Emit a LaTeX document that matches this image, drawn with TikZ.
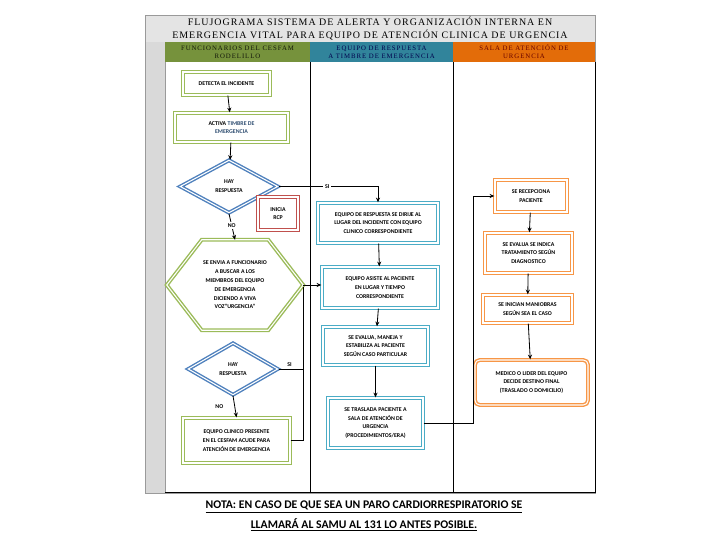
\documentclass[tikz,border=0pt]{standalone}
\usepackage{fontspec}
\setmainfont{Carlito}
\newfontfamily\titlefont[LetterSpace=10]{Liberation Serif}
\newfontfamily\headfont[LetterSpace=14]{Liberation Serif}
\usetikzlibrary{arrows.meta}
\usetikzlibrary{shapes.geometric}
\definecolor{boxgreen}{HTML}{9BBB59}
\definecolor{boxblue}{HTML}{4BACC6}
\definecolor{diablue}{HTML}{4F81BD}
\definecolor{boxorange}{HTML}{F79646}
\definecolor{boxred}{HTML}{C0504D}
\definecolor{hdgreen}{HTML}{76923C}
\definecolor{hdblue}{HTML}{31849B}
\definecolor{hdorange}{HTML}{E36C09}
\definecolor{stripgray}{HTML}{D9D9D9}
\definecolor{titlegray}{HTML}{E4E4E4}
\definecolor{framegray}{HTML}{9A9A9A}
\newlength\pxu
\setlength\pxu{0.03cm}

\begin{document}
\begin{tikzpicture}[
    x=0.03cm, y=-0.03cm,
    boxtext/.style={align=center, inner sep=1pt,
        font=\fontsize{5}{7.5}\selectfont\bfseries},
    flowbox/.style={
        rectangle, draw=#1, fill=white,
        line width=1.2pt, double=white, double distance=0.9pt,
        boxtext
    },
    decision/.style={flowbox=diablue, diamond, aspect=1.85},
    hexline/.style={draw=boxgreen, line width=1.2pt, double=white,
        double distance=0.9pt},
    header/.style={fill=#1, align=center, inner sep=0pt,
        minimum height=20\pxu, font=\headfont\fontsize{5.8}{7}\selectfont},
    link/.style={draw, line width=0.7pt},
    arr/.style={link, -{Stealth[length=4pt, width=3.5pt]}},
    tag/.style={font=\fontsize{5}{6}\selectfont\bfseries, fill=white, inner sep=1.5pt},
    note/.style={font=\fontsize{10}{12}\selectfont\bfseries}
  ]

  \useasboundingbox (0,0) rectangle (720,540);

  % table
  \fill[stripgray] (145,42) rectangle (165,493);
  \node[fill=titlegray, minimum width=450\pxu, minimum height=27\pxu, inner sep=0pt,
        align=center, font=\titlefont\fontsize{8.5}{11}\selectfont] (title) at (370,28.5)
        {FLUJOGRAMA SISTEMA DE ALERTA Y ORGANIZACIÓN INTERNA EN\\
         EMERGENCIA VITAL PARA EQUIPO DE ATENCIÓN CLINICA DE URGENCIA};
  \node[header=hdgreen, minimum width=145\pxu, text=black!85!hdgreen] (col_func) at (237.5,52)
        {FUNCIONARIOS DEL CESFAM\\RODELILLO};
  \node[header=hdblue, minimum width=143\pxu, text=black!70!blue] (col_equipo) at (381.5,52)
        {EQUIPO DE RESPUESTA\\A TIMBRE DE EMERGENCIA};
  \node[header=hdorange, minimum width=142\pxu, text=black!60!red] (col_sala) at (524,52)
        {SALA DE ATENCIÓN DE\\URGENCIA};
  \draw[framegray, line width=0.6pt] (145,15) rectangle (595,493);
  \draw[framegray, line width=0.4pt] (165,62) -- (165,493);
  \draw[line width=0.6pt] (310,62) -- (310,493);
  \draw[line width=0.6pt] (453,62) -- (453,493);
  \draw[line width=0.6pt] (595,62) -- (595,493);
  \draw[line width=0.8pt] (165,492) -- (595,492);

  % funcionarios
  \node[flowbox=boxgreen, minimum width=87\pxu, minimum height=23\pxu] (detecta) at (226.5,83.5)
        {DETECTA EL INCIDENTE};
  \node[flowbox=boxgreen, minimum width=113\pxu, minimum height=29\pxu] (activa) at (231.5,127.5)
        {ACTIVA \textcolor{diablue!60!black}{TIMBRE DE}\\\textcolor{diablue!60!black}{EMERGENCIA}};
  \node[decision, minimum width=98\pxu, minimum height=53\pxu] (hay_1) at (229,186.5)
        {HAY\\RESPUESTA};
  \node[flowbox=boxred, minimum width=40\pxu, minimum height=33\pxu] (rcp) at (278,213.5)
        {INICIA\\RCP};
  \node[boxtext, minimum width=136\pxu, minimum height=90\pxu] (hexa) at (235,285)
        {SE ENVIA A FUNCIONARIO\\A BUSCAR A LOS\\MIEMBROS DEL EQUIPO\\DE EMERGENCIA\\DICIENDO A VIVA\\VOZ"URGENCIA"};
  \draw[hexline] (hexa.west) -- ([xshift=35\pxu]hexa.north west) -- ([xshift=-35\pxu]hexa.north east)
        -- (hexa.east) -- ([xshift=-35\pxu]hexa.south east) -- ([xshift=35\pxu]hexa.south west) -- cycle;
  \node[decision, minimum width=90\pxu, minimum height=52\pxu] (hay_2) at (233,369)
        {HAY\\RESPUESTA};
  \node[flowbox=boxgreen, minimum width=107\pxu, minimum height=45\pxu] (clinico) at (236.5,440.5)
        {EQUIPO CLINICO PRESENTE\\EN EL CESFAM ACUDE PARA\\ATENCIÓN DE EMERGENCIA};

  % equipo de respuesta
  \node[flowbox=boxblue, minimum width=120\pxu, minimum height=40\pxu] (dirige) at (378,223)
        {EQUIPO DE RESPUESTA SE DIRIJE AL\\LUGAR DEL INCIDENTE CON EQUIPO\\CLINICO CORRESPONDIENTE};
  \node[flowbox=boxblue, minimum width=116\pxu, minimum height=41\pxu] (asiste) at (380,287.5)
        {EQUIPO ASISTE AL PACIENTE\\EN LUGAR Y TIEMPO\\CORRESPONDIENTE};
  \node[flowbox=boxblue, minimum width=105\pxu, minimum height=38\pxu] (evalua) at (375.5,346)
        {SE EVALUA, MANEJA Y\\ESTABILIZA AL PACIENTE\\SEGÚN CASO PARTICULAR};
  \node[flowbox=boxblue, minimum width=95\pxu, minimum height=50\pxu] (traslada) at (375.5,423)
        {SE TRASLADA PACIENTE A\\SALA DE ATENCIÓN DE\\URGENCIA\\(PROCEDIMIENTOS/ERA)};

  % sala de atencion
  \node[flowbox=boxorange, minimum width=72\pxu, minimum height=32\pxu] (recepciona) at (531,196)
        {SE RECEPCIONA\\PACIENTE};
  \node[flowbox=boxorange, minimum width=87\pxu, minimum height=40\pxu] (indica) at (528.5,253)
        {SE EVALUA SE INDICA\\TRATAMIENTO SEGÚN\\DIAGNOSTICO};
  \node[flowbox=boxorange, minimum width=89\pxu, minimum height=28\pxu] (maniobras) at (527.5,309)
        {SE INICIAN MANIOBRAS\\SEGÚN SEA EL CASO};
  \node[flowbox=boxorange, rounded corners=4pt, minimum width=113\pxu, minimum height=45\pxu] (medico) at (531.5,382.5)
        {MEDICO O LIDER DEL EQUIPO\\DECIDE DESTINO FINAL\\(TRASLADO O DOMICILIO)};

  \coordinate (join_r) at (303,287);
  \coordinate (turn_sala) at (473,423);

  \draw[arr] (detecta) -- (activa);
  \draw[arr] (activa) -- (hay_1);
  \draw[arr] (hay_1.east) -| node[tag, pos=0.245] {SI} (dirige.north);
  \draw[arr] (hay_1.south) -- node[tag, pos=0.45] {NO} (hexa.north);
  \draw[arr] (hexa.east) -- (hexa.east -| asiste.west);
  \draw[arr] (hay_2.south) -- node[tag, left, fill=none, pos=0.5, xshift=-8pt] {NO} (clinico.north);
  \draw[link] (hay_2.east) -- node[tag, above, fill=none, pos=0.45] {SI} (hay_2.east -| join_r);
  \draw[link] (clinico.east) -| (join_r);

  \draw[arr] (dirige) -- (asiste);
  \draw[arr] (asiste) -- (evalua);
  \draw[arr] (evalua) -- (traslada);
  \draw[arr] (traslada.east) -- (turn_sala) |- (recepciona.west);

  \draw[arr] (recepciona) -- (indica);
  \draw[arr] (indica) -- (maniobras);
  \draw[arr] (maniobras) -- (medico);

  \node[note] (nota_1) at (364,507)
        {\underline{NOTA: EN CASO DE QUE SEA UN PARO CARDIORRESPIRATORIO SE}};
  \node[note] (nota_2) at (364,525)
        {\underline{LLAMARÁ AL SAMU AL 131 LO ANTES POSIBLE.}};
\end{tikzpicture}
\end{document}
